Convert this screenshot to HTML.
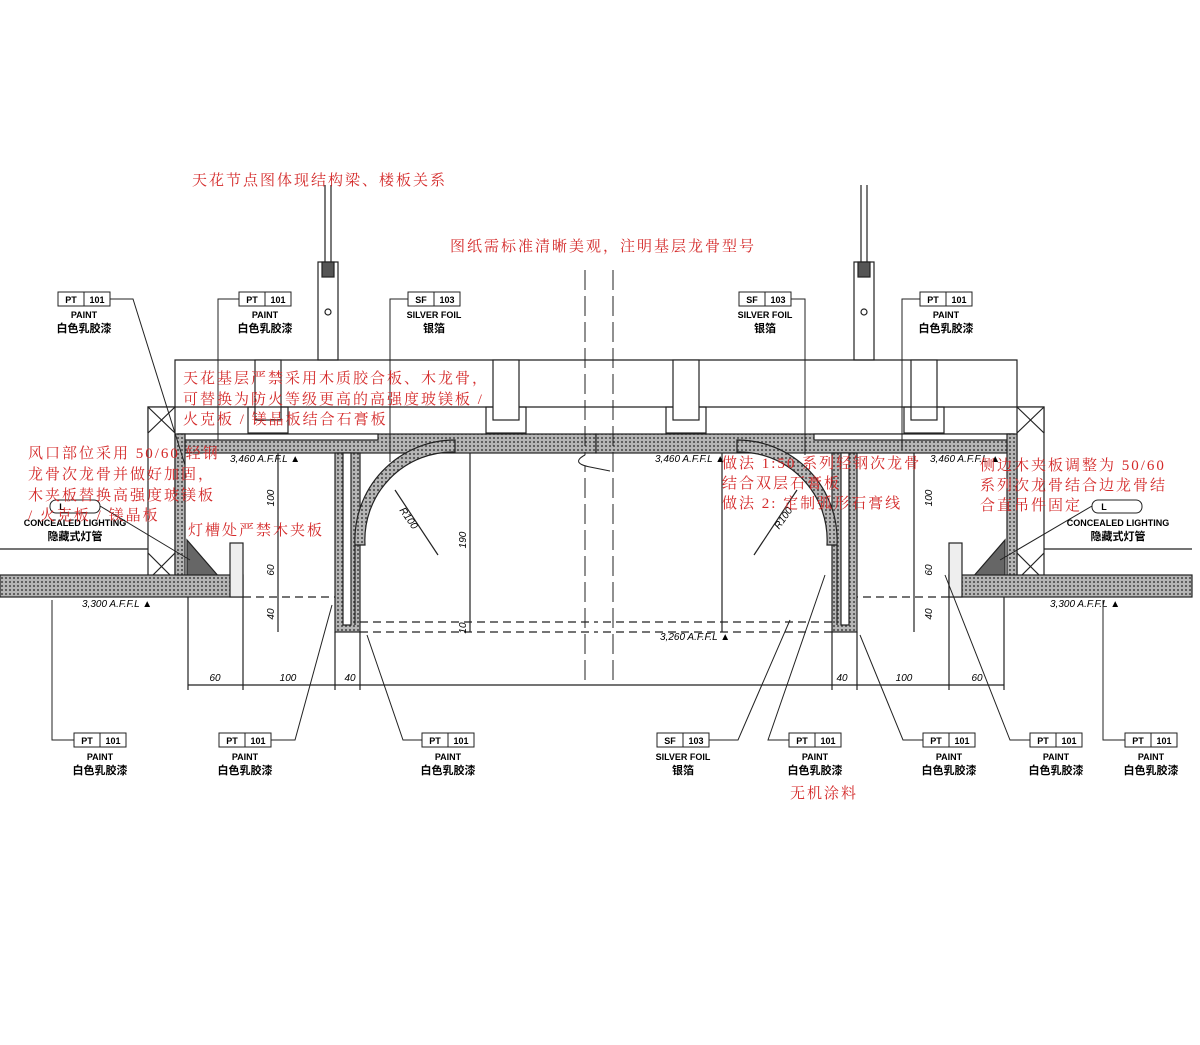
<!DOCTYPE html>
<html><head><meta charset="utf-8"><style>
body{margin:0;background:#fff}
svg{display:block}
.t{font-family:"Liberation Sans",sans-serif;font-size:9px;font-weight:bold;text-anchor:middle}
.c{font-family:"Liberation Sans","Noto Sans CJK SC",sans-serif;font-size:11px;font-weight:bold;text-anchor:middle}
.r{font-family:"Liberation Serif","Noto Serif CJK SC",serif;font-size:15px;fill:#d42a2a;letter-spacing:2px}
.d{font-family:"Liberation Sans",sans-serif;font-size:10px;font-style:italic}
</style></head><body>
<svg width="1200" height="1045" viewBox="0 0 1200 1045" xmlns="http://www.w3.org/2000/svg">
<defs>
<pattern id="h" width="4" height="4" patternUnits="userSpaceOnUse"><rect width="4" height="4" fill="#b5b5b5"/><circle cx="2" cy="2" r="1" fill="#444"/></pattern>
<g id="half" stroke="#222" stroke-width="1.2" fill="none">
  <line x1="325" y1="185" x2="325" y2="265"/><line x1="331" y1="185" x2="331" y2="265"/>
  <rect x="318" y="262" width="20" height="98" fill="#fff"/>
  <rect x="322" y="262" width="12" height="15" fill="#555"/>
  <circle cx="328" cy="312" r="3"/>
  <polyline points="175,407 175,360 596,360"/>
  <polyline points="148,433 148,407 596,407"/>
  <rect x="255" y="360" width="26" height="60" fill="#fff"/>
  <rect x="248" y="407" width="40" height="26"/>
  <rect x="486" y="407" width="40" height="26"/>
  <rect x="493" y="360" width="26" height="60" fill="#fff"/>
  <rect x="148" y="407" width="27" height="173" fill="#fff"/>
  <line x1="148" y1="407" x2="175" y2="433"/><line x1="175" y1="407" x2="148" y2="433"/>
  <line x1="148" y1="553" x2="175" y2="580"/><line x1="175" y1="553" x2="148" y2="580"/>
  <rect x="178" y="434" width="418" height="19" fill="url(#h)"/>
  <rect x="178" y="434" width="200" height="6" fill="#fff"/>
  <rect x="175" y="434" width="10" height="146" fill="url(#h)"/>
  <polygon points="187,540 187,578 220,578" fill="#666"/>
  <rect x="0" y="575" width="243" height="22" fill="url(#h)"/>
  <line x1="0" y1="549" x2="148" y2="549"/>
  <rect x="230" y="543" width="13" height="54" fill="#eee"/>
  <rect x="335" y="453" width="25" height="179" fill="url(#h)"/>
  <rect x="343" y="453" width="8" height="172" fill="#fff"/>
  <path d="M355,545 A100,100 0 0 1 455,440 L455,452 A88,88 0 0 0 365,545 Z" fill="url(#h)"/>
  <line x1="355" y1="545" x2="355" y2="625"/>
  <line x1="395" y1="490" x2="438" y2="555"/>
  <line x1="243" y1="597" x2="335" y2="597" stroke-dasharray="8,5"/>
  <line x1="360" y1="622" x2="596" y2="622" stroke-dasharray="8,5"/>
  <line x1="360" y1="632" x2="596" y2="632" stroke-dasharray="8,5"/>
  <line x1="278" y1="453" x2="278" y2="632"/>
  <line x1="470" y1="453" x2="470" y2="632"/>
  <line x1="188" y1="597" x2="188" y2="690"/><line x1="243" y1="597" x2="243" y2="690"/>
  <line x1="335" y1="632" x2="335" y2="690"/><line x1="360" y1="632" x2="360" y2="690"/>
  <line x1="188" y1="685" x2="596" y2="685"/>
</g>
</defs>
<use href="#half"/>
<use href="#half" transform="translate(1192,0) scale(-1,1)"/>
<line x1="585" y1="270" x2="585" y2="680" stroke="#222" stroke-dasharray="20,6"/>
<line x1="613" y1="270" x2="613" y2="680" stroke="#222" stroke-dasharray="20,6"/>
<path d="M585,455 q-15,8 5,12 l20,4" stroke="#222" fill="#fff"/>
<g class="d" text-anchor="middle">
<text x="215" y="681">60</text><text x="288" y="681">100</text><text x="350" y="681">40</text>
<text x="842" y="681">40</text><text x="904" y="681">100</text><text x="977" y="681">60</text>
<text transform="translate(274,498) rotate(-90)">100</text><text transform="translate(274,570) rotate(-90)">60</text><text transform="translate(274,614) rotate(-90)">40</text>
<text transform="translate(466,540) rotate(-90)">190</text><text transform="translate(466,628) rotate(-90)">10</text>
<text transform="translate(932,498) rotate(-90)">100</text><text transform="translate(932,570) rotate(-90)">60</text><text transform="translate(932,614) rotate(-90)">40</text>
<text transform="translate(406,520) rotate(55)">R100</text><text transform="translate(786,520) rotate(-55)">R100</text>
</g>
<g class="d" font-size="8">
<text x="230" y="462">3,460 A.F.F.L ▲</text><text x="655" y="462">3,460 A.F.F.L ▲</text><text x="930" y="462">3,460 A.F.F.L ▲</text>
<text x="82" y="607">3,300 A.F.F.L ▲</text><text x="1050" y="607">3,300 A.F.F.L ▲</text><text x="660" y="640">3,260 A.F.F.L ▲</text>
</g>
<g stroke="#222" fill="none">
<rect x="58" y="292" width="52" height="14"/><line x1="84" y1="292" x2="84" y2="306"/>
<rect x="239" y="292" width="52" height="14"/><line x1="265" y1="292" x2="265" y2="306"/>
<rect x="408" y="292" width="52" height="14"/><line x1="434" y1="292" x2="434" y2="306"/>
<rect x="739" y="292" width="52" height="14"/><line x1="765" y1="292" x2="765" y2="306"/>
<rect x="920" y="292" width="52" height="14"/><line x1="946" y1="292" x2="946" y2="306"/>
<polyline points="110,299 133,299 185,465"/><polyline points="239,299 218,299 218,440"/>
<polyline points="408,299 390,299 390,462"/><polyline points="791,299 805,299 805,455"/>
<polyline points="920,299 902,299 902,450"/>
<rect x="50" y="500" width="50" height="13" rx="6"/><rect x="1092" y="500" width="50" height="13" rx="6"/>
<line x1="100" y1="506" x2="190" y2="560"/><line x1="1092" y1="506" x2="1000" y2="560"/>
<rect x="74" y="733" width="52" height="14"/><line x1="100" y1="733" x2="100" y2="747"/>
<rect x="219" y="733" width="52" height="14"/><line x1="245" y1="733" x2="245" y2="747"/>
<rect x="422" y="733" width="52" height="14"/><line x1="448" y1="733" x2="448" y2="747"/>
<rect x="657" y="733" width="52" height="14"/><line x1="683" y1="733" x2="683" y2="747"/>
<rect x="789" y="733" width="52" height="14"/><line x1="815" y1="733" x2="815" y2="747"/>
<rect x="923" y="733" width="52" height="14"/><line x1="949" y1="733" x2="949" y2="747"/>
<rect x="1030" y="733" width="52" height="14"/><line x1="1056" y1="733" x2="1056" y2="747"/>
<rect x="1125" y="733" width="52" height="14"/><line x1="1151" y1="733" x2="1151" y2="747"/>
<polyline points="74,740 52,740 52,600"/><polyline points="271,740 295,740 332,605"/>
<polyline points="422,740 403,740 367,635"/><polyline points="709,740 738,740 790,620"/>
<polyline points="789,740 768,740 825,575"/><polyline points="923,740 903,740 860,635"/>
<polyline points="1030,740 1010,740 945,575"/><polyline points="1125,740 1103,740 1103,600"/>
</g>
<g class="t">
<text x="71" y="303">PT</text><text x="97" y="303">101</text>
<text x="252" y="303">PT</text><text x="278" y="303">101</text>
<text x="421" y="303">SF</text><text x="447" y="303">103</text>
<text x="752" y="303">SF</text><text x="778" y="303">103</text>
<text x="933" y="303">PT</text><text x="959" y="303">101</text>
<text x="84" y="318">PAINT</text><text x="265" y="318">PAINT</text><text x="434" y="318">SILVER FOIL</text><text x="765" y="318">SILVER FOIL</text><text x="946" y="318">PAINT</text>
<text x="62" y="510">L</text><text x="1104" y="510">L</text>
<text x="75" y="526">CONCEALED LIGHTING</text><text x="1118" y="526">CONCEALED LIGHTING</text>
<text x="87" y="744">PT</text><text x="113" y="744">101</text>
<text x="232" y="744">PT</text><text x="258" y="744">101</text>
<text x="435" y="744">PT</text><text x="461" y="744">101</text>
<text x="670" y="744">SF</text><text x="696" y="744">103</text>
<text x="802" y="744">PT</text><text x="828" y="744">101</text>
<text x="936" y="744">PT</text><text x="962" y="744">101</text>
<text x="1043" y="744">PT</text><text x="1069" y="744">101</text>
<text x="1138" y="744">PT</text><text x="1164" y="744">101</text>
<text x="100" y="760">PAINT</text><text x="245" y="760">PAINT</text><text x="448" y="760">PAINT</text><text x="683" y="760">SILVER FOIL</text>
<text x="815" y="760">PAINT</text><text x="949" y="760">PAINT</text><text x="1056" y="760">PAINT</text><text x="1151" y="760">PAINT</text>
</g>
<g class="c">
<text x="84" y="332">白色乳胶漆</text><text x="265" y="332">白色乳胶漆</text><text x="434" y="332">银箔</text><text x="765" y="332">银箔</text><text x="946" y="332">白色乳胶漆</text>
<text x="75" y="540">隐藏式灯管</text><text x="1118" y="540">隐藏式灯管</text>
<text x="100" y="774">白色乳胶漆</text><text x="245" y="774">白色乳胶漆</text><text x="448" y="774">白色乳胶漆</text><text x="683" y="774">银箔</text>
<text x="815" y="774">白色乳胶漆</text><text x="949" y="774">白色乳胶漆</text><text x="1056" y="774">白色乳胶漆</text><text x="1151" y="774">白色乳胶漆</text>
</g>
<g class="r">
<text x="192" y="185">天花节点图体现结构梁、楼板关系</text>
<text x="450" y="251">图纸需标准清晰美观，注明基层龙骨型号</text>
<text x="183" y="383">天花基层严禁采用木质胶合板、木龙骨，</text>
<text x="183" y="404">可替换为防火等级更高的高强度玻镁板 /</text>
<text x="183" y="424">火克板 / 镁晶板结合石膏板</text>
<text x="28" y="458">风口部位采用 50/60 轻钢</text>
<text x="28" y="479">龙骨次龙骨并做好加固，</text>
<text x="28" y="500">木夹板替换高强度玻镁板</text>
<text x="28" y="520">/ 火克板 / 镁晶板</text>
<text x="188" y="535">灯槽处严禁木夹板</text>
<text x="722" y="468">做法 1:50 系列轻钢次龙骨</text>
<text x="722" y="488">结合双层石膏板</text>
<text x="722" y="508">做法 2: 定制弧形石膏线</text>
<text x="980" y="470">侧边木夹板调整为 50/60</text>
<text x="980" y="490">系列次龙骨结合边龙骨结</text>
<text x="980" y="510">合直吊件固定</text>
<text x="790" y="798">无机涂料</text>
</g>
</svg>
</body></html>
